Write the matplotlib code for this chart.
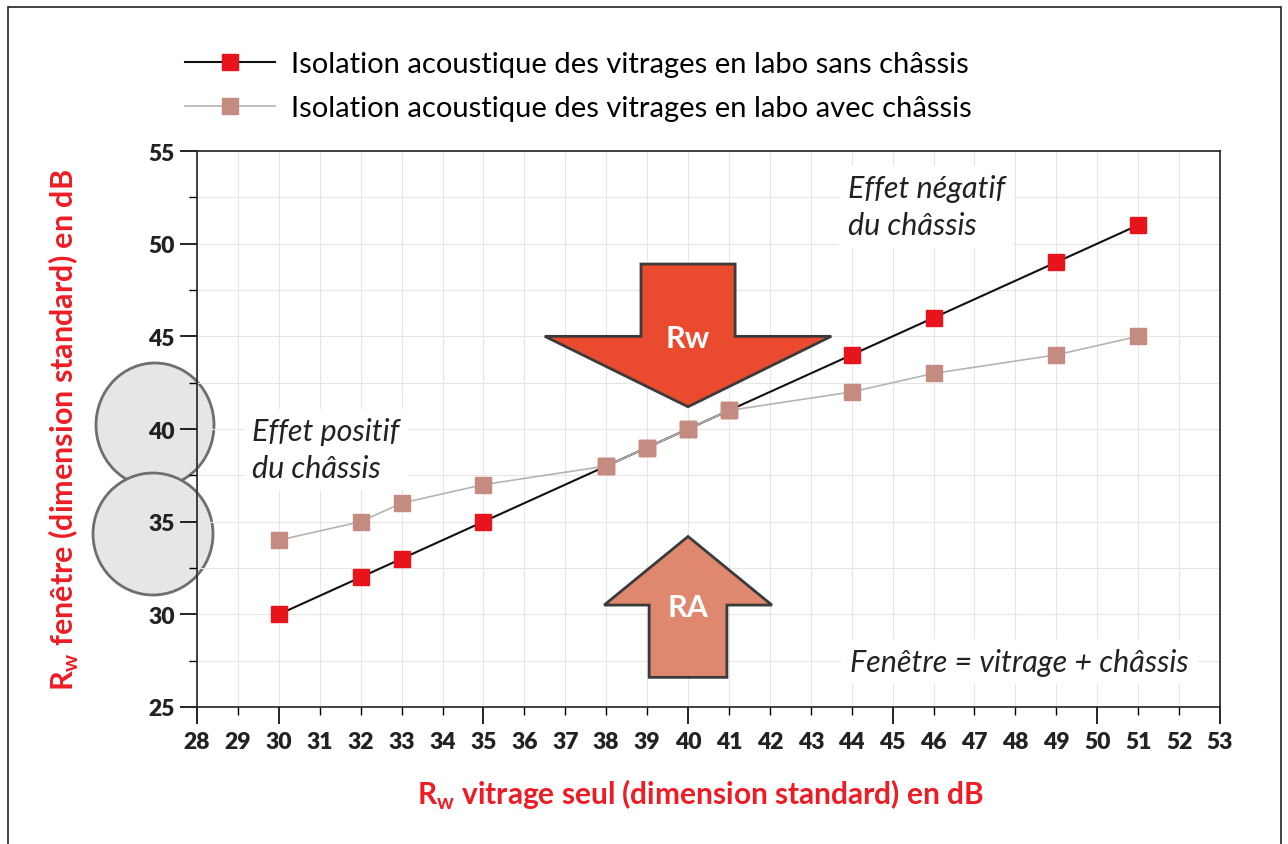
import numpy as np
import matplotlib.pyplot as plt
from matplotlib.patches import Ellipse, Polygon, Rectangle
from matplotlib.lines import Line2D
from matplotlib.ticker import MultipleLocator, FixedLocator

plt.rcParams['font.family'] = ['Lato', 'DejaVu Sans']

# data
rw_vitrage = [30, 32, 33, 35, 38, 39, 40, 41, 44, 46, 49, 51]
sans_chassis = [30, 32, 33, 35, 38, 39, 40, 41, 44, 46, 49, 51]
avec_chassis = [34, 35, 36, 37, 38, 39, 40, 41, 42, 43, 44, 45]
x_major = [28, 30, 35, 40, 45, 50, 53]
x_minor = [v for v in range(28, 54) if v not in x_major]
label_sans = 'Isolation acoustique des vitrages en labo sans châssis'
label_avec = 'Isolation acoustique des vitrages en labo avec châssis'
xlabel = r'R$_\mathregular{w}$ vitrage seul (dimension standard) en dB'
ylabel = r'R$_\mathregular{w}$ fenêtre (dimension standard) en dB'

red = '#e8141c'
brown = '#c48c80'
textred = '#ee1c25'

W, H = 1288, 845
fig = plt.figure(figsize=(12.88, 8.45), dpi=100)
ax = fig.add_axes([197/W, 1-708/H, (1220-197)/W, (708-152)/H])
ax.patch.set_alpha(0)

# circles around 40 and 35 tick labels
for cx, cy, w, h in [(155, 426, 118, 124), (153, 535, 120, 122)]:
    e = Ellipse((cx/W, 1-cy/H), w/W, h/H, transform=fig.transFigure,
                facecolor='#e6e6e8', edgecolor='#6e6e6e', lw=2, zorder=-1)
    fig.patches.append(e)

ax.set_xlim(28, 53)
ax.set_ylim(25, 55)
ax.set_xticks(x_major, [str(v) for v in x_major])
ax.set_xticks(x_minor, [str(v) for v in x_minor], minor=True)
ax.yaxis.set_major_locator(MultipleLocator(5))
ax.yaxis.set_minor_locator(MultipleLocator(2.5))
ax.tick_params(which='major', direction='out', length=12, width=1.2, labelsize=16.5)
ax.tick_params(which='minor', direction='out', length=6, width=1.0, labelsize=16.5)
ax.tick_params(axis='x', which='major', pad=5)
ax.tick_params(axis='x', which='minor', pad=11)
ax.tick_params(axis='y', which='both', pad=4)
for lab in (ax.get_xticklabels() + ax.get_xticklabels(minor=True)
            + ax.get_yticklabels()):
    lab.set_fontweight('heavy')
    lab.set_color('#222222')

ax.grid(True, which='both', color='#e6e6e6', lw=0.8, zorder=0)
ax.set_axisbelow(True)
for s in ax.spines.values():
    s.set_linewidth(1.2)
    s.set_color('#222222')

# arrows
rw_arrow = [(38.85, 48.9), (41.15, 48.9), (41.15, 45.0), (43.5, 45.0), (40, 41.2),
            (36.5, 45.0), (38.85, 45.0)]
ra_arrow = [(39.05, 26.6), (40.95, 26.6), (40.95, 30.5), (42.05, 30.5), (40, 34.2),
            (37.95, 30.5), (39.05, 30.5)]
ax.add_patch(Polygon(rw_arrow, closed=True, facecolor='#ea4a2e', edgecolor='#3a3a3a',
                     lw=2, zorder=2))
ax.add_patch(Polygon(ra_arrow, closed=True, facecolor='#e0876f', edgecolor='#3a3a3a',
                     lw=2, zorder=2))
ax.text(40, 44.9, 'Rw', color='white', fontsize=22, fontweight='bold',
        ha='center', va='center', zorder=3)
ax.text(40, 30.4, 'RA', color='white', fontsize=22, fontweight='bold',
        ha='center', va='center', zorder=3)

ax.plot(rw_vitrage, sans_chassis, color='#111111', lw=1.5, marker='s',
        markersize=12, markerfacecolor=red, markeredgecolor=red, zorder=4)
ax.plot(rw_vitrage, avec_chassis, color='#b4b4b4', lw=1.2, marker='s',
        markersize=12, markerfacecolor=brown, markeredgecolor=brown, zorder=5)

box = dict(facecolor='white', edgecolor='none', pad=6)
ax.text(43.9, 53.75, 'Effet négatif\ndu châssis', style='italic', fontsize=22,
        color='#222222', ha='left', va='top', linespacing=1.4, bbox=box, zorder=3)
ax.text(29.35, 40.65, 'Effet positif\ndu châssis', style='italic', fontsize=22,
        color='#222222', ha='left', va='top', linespacing=1.4, bbox=box, zorder=3)
ax.text(43.95, 27.45, 'Fenêtre = vitrage + châssis', style='italic', fontsize=22,
        color='#222222', ha='left', va='center', bbox=box, zorder=3)

fig.text(700/W, 1-795/H, xlabel, color=textred, fontsize=21.5, fontweight='bold',
         ha='center', va='center')
fig.text(64/W, 1-430/H, ylabel, color=textred, fontsize=22, fontweight='bold',
         ha='center', va='center', rotation=90)

handles = [Line2D([], [], color='#111111', lw=1.5, marker='s', markersize=12,
                  markerfacecolor=red, markeredgecolor=red),
           Line2D([], [], color='#b4b4b4', lw=1.2, marker='s', markersize=12,
                  markerfacecolor=brown, markeredgecolor=brown)]
fig.legend(handles, [label_sans, label_avec], loc='upper left',
           bbox_to_anchor=(185/W, 1-52/H), frameon=False, fontsize=21,
           handlelength=3.1, handletextpad=0.55, labelspacing=0.62,
           borderpad=0, borderaxespad=0)

fig.patches.append(Rectangle((8/W, -0.01), (1281-8)/W, 1.01-8/H, transform=fig.transFigure,
                             fill=False, edgecolor='#222222', lw=1.2))

fig.savefig('out.png', dpi=100)
